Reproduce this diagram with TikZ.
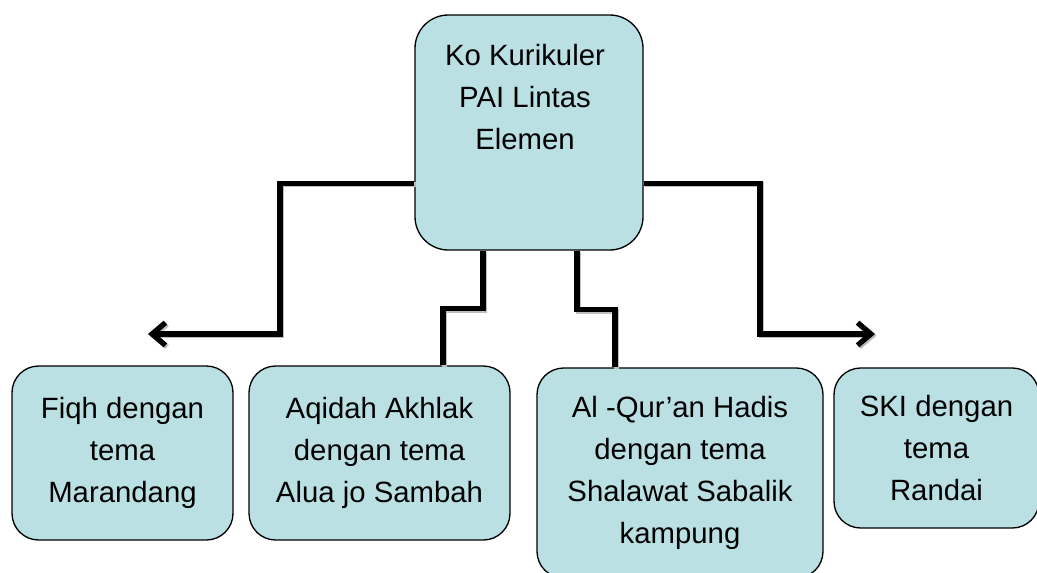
\documentclass[tikz,border=0pt]{standalone}
\usepackage{fontspec}
\setmainfont{Liberation Sans}
\usetikzlibrary{arrows.meta,calc}
\definecolor{boxfill}{RGB}{186,224,228}
\definecolor{linkshade}{RGB}{190,190,190}
\tikzset{
  unitbox/.style={draw=black,line width=1pt,fill=boxfill,rounded corners=20pt,
    align=center,inner sep=0pt,font=\fontsize{22}{31.5}\selectfont},
  link/.style={line width=4pt,
    preaction={draw=linkshade,line width=4pt,transform canvas={shift={(1.2pt,-1.2pt)}}}},
  linktip/.style={-{Straight Barb[length=10pt,width=17pt]}}
}

\begin{document}
\begin{tikzpicture}[x=0.75pt,y=-0.75pt]
  \clip (0,0) rectangle (1037,572);
  % root box
  \node[unitbox,rounded corners=25pt,minimum width=171pt,minimum height=176.25pt] (root) at (529,132.5) {};
  \node[align=center,inner sep=0pt,font=\fontsize{22}{31.5}\selectfont] (roottext) at (525,97)
    {Ko Kurikuler\\PAI Lintas\\Elemen};
  % subject boxes
  \foreach \name/\cx/\cy/\w/\h/\txt in {
      fiqh/122.5/453/165.75/130.5/{Fiqh dengan\\tema\\Marandang},
      aqidah/379.5/453/195.75/130.5/{Aqidah Akhlak\\dengan tema\\Alua jo Sambah},
      quran/680/473/214.5/157.5/{Al -Qur’an Hadis\\dengan tema\\Shalawat Sabalik\\kampung},
      ski/936.5/448/153.75/120/{SKI dengan\\tema\\Randai}}{
    \node[unitbox,minimum width=\w pt,minimum height=\h pt] (\name) at (\cx,\cy) {\txt};
  }
  \coordinate (leftbend) at (280,334);
  \coordinate (lefttip) at (148,334);
  \coordinate (rightbend) at (760,334);
  \coordinate (righttip) at (875,334);
  % connectors
  \draw[link,linktip] ([yshift=-38pt]root.west) -| (leftbend) -- (lefttip);
  \draw[link,linktip] ([yshift=-38pt]root.east) -| (rightbend) -- (righttip);
  \draw[link] ([xshift=-34.5pt]root.south) -- ++(0,58) -| ([xshift=47.6pt]aqidah.north);
  \draw[link] ([xshift=36pt]root.south) -- ++(0,59) -| ([xshift=-48.75pt]quran.north);
\end{tikzpicture}
\end{document}
